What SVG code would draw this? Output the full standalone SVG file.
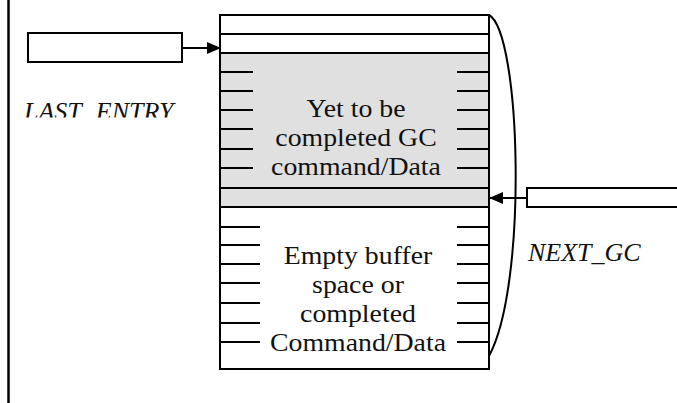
<svg xmlns="http://www.w3.org/2000/svg" width="677" height="403" viewBox="0 0 677 403">
  <style>
    .edge { fill: none; stroke: #000; stroke-width: 2; }
    .box { fill: #fff; stroke: #000; stroke-width: 2; }
    .tick { stroke: #000; stroke-width: 2; }
    .body { font-family: "Liberation Serif", "Times New Roman", serif; font-size: 26px; fill: #111; text-anchor: middle; }
    .ptr { font-family: "Liberation Serif", "Times New Roman", serif; font-size: 26px; font-style: italic; fill: #111; }
  </style>
  <defs>
    <marker id="arrowhead" markerWidth="14" markerHeight="12" refX="13" refY="6" orient="auto" markerUnits="userSpaceOnUse">
      <path d="M0,0 L14,6 L0,12 z" fill="#000"/>
    </marker>
    <clipPath id="labelClip">
      <rect x="0" y="90" width="200" height="27.5"/>
    </clipPath>
  </defs>

  <rect width="677" height="403" fill="#fff"/>

  <!-- page margin rule -->
  <line x1="8.5" y1="0" x2="8.5" y2="403" stroke="#000" stroke-width="2.5"/>

  <!-- circular buffer -->
  <g id="buffer">
    <rect x="220" y="15" width="269" height="354" fill="#fff"/>
    <rect x="220" y="53" width="269" height="154" fill="#e0e0e0"/>
    <line class="tick" x1="220" y1="34" x2="489" y2="34"/>
    <line class="tick" x1="220" y1="53" x2="489" y2="53"/>
    <line class="tick" x1="220" y1="188" x2="489" y2="188"/>
    <line class="tick" x1="220" y1="207" x2="489" y2="207" stroke-width="2.5"/>
    <!-- slot ticks, pending region -->
    <g class="tick">
      <line x1="220" y1="72" x2="253" y2="72"/><line x1="457" y1="72" x2="489" y2="72"/>
      <line x1="220" y1="91" x2="253" y2="91"/><line x1="457" y1="91" x2="489" y2="91"/>
      <line x1="220" y1="110" x2="253" y2="110"/><line x1="457" y1="110" x2="489" y2="110"/>
      <line x1="220" y1="129" x2="253" y2="129"/><line x1="457" y1="129" x2="489" y2="129"/>
      <line x1="220" y1="149" x2="253" y2="149"/><line x1="457" y1="149" x2="489" y2="149"/>
      <line x1="220" y1="168" x2="253" y2="168"/><line x1="457" y1="168" x2="489" y2="168"/>
    </g>
    <!-- slot ticks, free region -->
    <g class="tick">
      <line x1="220" y1="227" x2="260" y2="227"/><line x1="457" y1="227" x2="489" y2="227"/>
      <line x1="220" y1="245" x2="260" y2="245"/><line x1="457" y1="245" x2="489" y2="245"/>
      <line x1="220" y1="264" x2="260" y2="264"/><line x1="457" y1="264" x2="489" y2="264"/>
      <line x1="220" y1="283" x2="260" y2="283"/><line x1="457" y1="283" x2="489" y2="283"/>
      <line x1="220" y1="303" x2="260" y2="303"/><line x1="457" y1="303" x2="489" y2="303"/>
      <line x1="220" y1="323" x2="260" y2="323"/><line x1="457" y1="323" x2="489" y2="323"/>
      <line x1="220" y1="342" x2="260" y2="342"/><line x1="457" y1="342" x2="489" y2="342"/>
    </g>
    <rect class="edge" x="220" y="15" width="269" height="354"/>
    <g transform="translate(356,0) scale(1.07,1) translate(-356,0)">
      <text class="body" x="356" y="117">Yet to be</text>
      <text class="body" x="356" y="146">completed GC</text>
      <text class="body" x="356" y="175">command/Data</text>
    </g>
    <g transform="translate(358,0) scale(1.07,1) translate(-358,0)">
      <text class="body" x="358" y="264">Empty buffer</text>
      <text class="body" x="358" y="293">space or</text>
      <text class="body" x="358" y="322">completed</text>
      <text class="body" x="358" y="351">Command/Data</text>
    </g>
  </g>

  <!-- LAST_ENTRY pointer -->
  <g id="last-entry">
    <rect class="box" x="28" y="33" width="154" height="29"/>
    <text class="ptr" x="24" y="120" clip-path="url(#labelClip)" word-spacing="8">LAST ENTRY</text>
  </g>

  <!-- NEXT_GC pointer -->
  <g id="next-gc">
    <rect class="box" x="527" y="188" width="160" height="19"/>
    <text class="ptr" x="528" y="261">NEXT_GC</text>
  </g>

  <!-- connectors -->
  <g id="connectors">
    <line class="edge" x1="182" y1="48" x2="220" y2="48" marker-end="url(#arrowhead)" stroke-width="1.5"/>
    <line class="edge" x1="527" y1="198" x2="490" y2="198" marker-end="url(#arrowhead)" stroke-width="1.5"/>
    <path class="edge" d="M489,15 C521,32 528,285 489,356"/>
  </g>
</svg>
